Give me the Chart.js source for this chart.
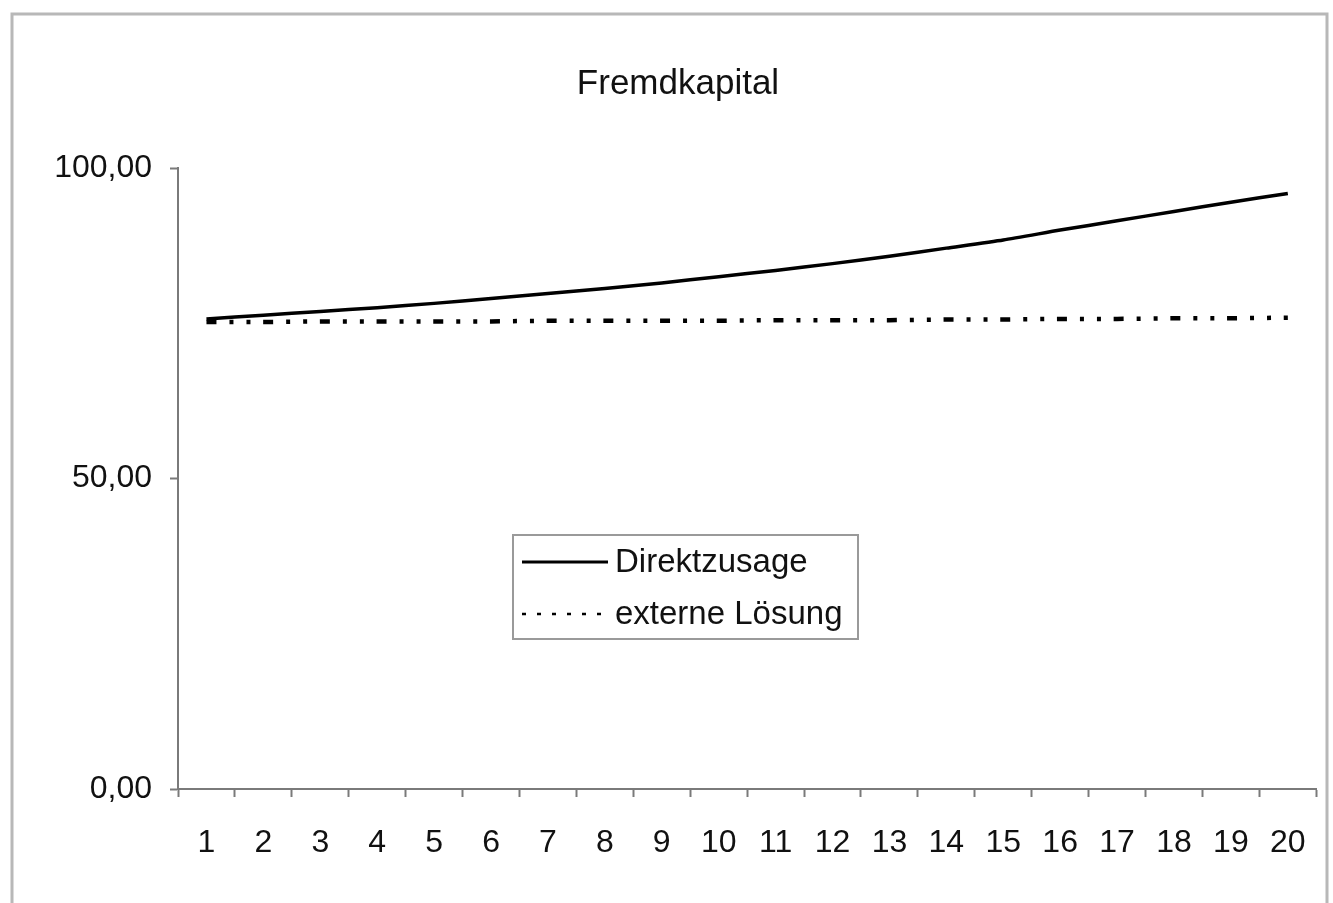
<!DOCTYPE html>
<html>
<head>
<meta charset="utf-8">
<script src="https://cdn.jsdelivr.net/npm/chart.js@4/dist/chart.umd.min.js"></script>
<style>
  html, body { margin: 0; padding: 0; background: #ffffff; }
  #wrap { width: 1333px; height: 903px; position: relative; }
</style>
</head>
<body>
<div id="wrap"><canvas id="c" width="1333" height="903"></canvas></div>
<script>
const chartTitle = 'Fremdkapital';
const categories = ['1','2','3','4','5','6','7','8','9','10','11','12','13','14','15','16','17','18','19','20'];
const direktzusage = [75.7, 76.3, 76.9, 77.5, 78.2, 79.0, 79.8, 80.6, 81.5, 82.5, 83.5, 84.6, 85.8, 87.1, 88.4, 90.0, 91.5, 93.0, 94.5, 95.9];
const externeLoesung = [75.2, 75.2, 75.3, 75.3, 75.3, 75.3, 75.4, 75.4, 75.4, 75.4, 75.5, 75.5, 75.5, 75.6, 75.6, 75.7, 75.7, 75.8, 75.8, 75.9];
const seriesLabels = ['Direktzusage', 'externe Lösung'];
const yTicks = [0, 50, 100];
const yTickLabels = ['0,00', '50,00', '100,00'];

const FONT = '"Liberation Sans", Arial, Helvetica, sans-serif';
const TEXT = '#111111';
const AXIS = '#7a7a7a';

const framePlugin = {
  id: 'frame',
  beforeDraw(chart) {
    const ctx = chart.ctx;
    ctx.save();
    ctx.fillStyle = '#ffffff';
    ctx.fillRect(0, 0, chart.width, chart.height);
    ctx.strokeStyle = '#b8b8b8';
    ctx.lineWidth = 3;
    ctx.beginPath();
    ctx.moveTo(12, chart.height + 2);
    ctx.lineTo(12, 14);
    ctx.lineTo(1327, 14);
    ctx.lineTo(1327, chart.height + 2);
    ctx.stroke();
    ctx.restore();
  }
};

const legendBoxPlugin = {
  id: 'legendBox',
  afterDraw(chart) {
    const ctx = chart.ctx;
    const a = chart.chartArea;
    const x0 = a.left + 335, y0 = a.top + 367, w = 345, h = 104;
    ctx.save();
    ctx.fillStyle = '#ffffff';
    ctx.fillRect(x0, y0, w, h);
    ctx.strokeStyle = '#9a9a9a';
    ctx.lineWidth = 2;
    ctx.strokeRect(x0, y0, w, h);
    const rows = [y0 + 27, y0 + 79];
    chart.data.datasets.forEach((ds, i) => {
      const y = rows[i];
      ctx.beginPath();
      ctx.strokeStyle = '#000';
      if (i === 0) {
        ctx.lineWidth = 3;
        ctx.setLineDash([]);
      } else {
        ctx.lineWidth = 2.5;
        ctx.setLineDash([4, 11]);
      }
      ctx.moveTo(x0 + 9, y);
      ctx.lineTo(x0 + 95, y);
      ctx.stroke();
      ctx.setLineDash([]);
      ctx.fillStyle = TEXT;
      ctx.font = '33px ' + FONT;
      ctx.textAlign = 'left';
      ctx.textBaseline = 'middle';
      ctx.fillText(ds.label, x0 + 102, y + 1);
    });
    ctx.restore();
  }
};

new Chart(document.getElementById('c'), {
  type: 'line',
  data: {
    labels: categories,
    datasets: [
      {
        label: seriesLabels[0],
        data: direktzusage,
        borderColor: '#000000',
        borderWidth: 3.5,
        pointRadius: 0,
        tension: 0.2,
        fill: false
      },
      {
        label: seriesLabels[1],
        data: externeLoesung,
        borderColor: '#000000',
        borderWidth: 4.5,
        borderDash: [10, 13, 4, 13, 4, 12.7],
        borderCapStyle: 'butt',
        pointRadius: 0,
        tension: 0,
        fill: false
      }
    ]
  },
  options: {
    responsive: false,
    animation: false,
    layout: { padding: { left: 38, right: 15, top: 0, bottom: 0 } },
    plugins: {
      legend: { display: false },
      tooltip: { enabled: false },
      title: {
        display: true,
        text: chartTitle,
        color: TEXT,
        font: { family: FONT, size: 35, weight: 'normal', lineHeight: 1.2 },
        padding: { top: 63, bottom: 63 }
      }
    },
    scales: {
      x: {
        type: 'category',
        offset: true,
        grid: {
          offset: true,
          drawOnChartArea: false,
          drawTicks: true,
          tickLength: 8,
          tickColor: AXIS,
          tickWidth: 2
        },
        border: { display: true, color: AXIS, width: 2 },
        ticks: {
          color: TEXT,
          font: { family: FONT, size: 32 },
          padding: 27,
          maxRotation: 0,
          autoSkip: false
        },
        afterFit(scale) { scale.height = 114; }
      },
      y: {
        min: 0,
        max: 100,
        afterBuildTicks(scale) { scale.ticks = yTicks.map(v => ({ value: v })); },
        grid: {
          drawOnChartArea: false,
          drawTicks: true,
          tickLength: 8,
          tickColor: AXIS,
          tickWidth: 2
        },
        border: { display: true, color: AXIS, width: 2 },
        ticks: {
          color: TEXT,
          font: { family: FONT, size: 32 },
          padding: 18,
          callback(value) {
            const i = yTicks.indexOf(value);
            return i >= 0 ? yTickLabels[i] : '';
          }
        },
        afterFit(scale) { scale.width = 140; }
      }
    }
  },
  plugins: [framePlugin, legendBoxPlugin]
});
</script>
</body>
</html>
